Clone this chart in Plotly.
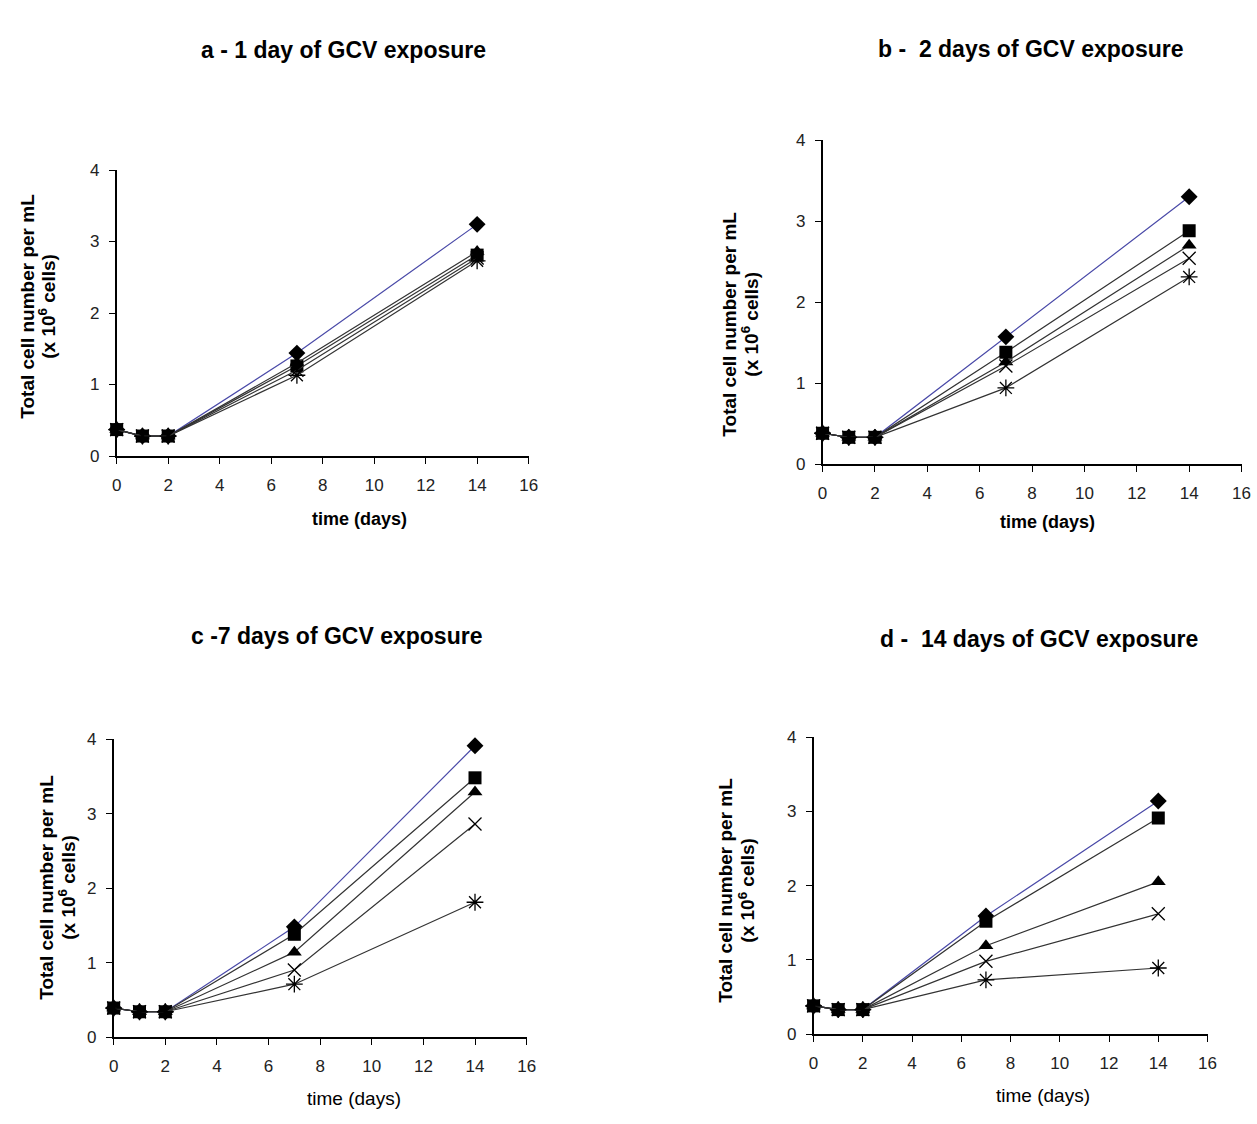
import plotly.graph_objects as go

W, H = 1257, 1124

days = [0, 1, 2, 7, 14]
series_names = ["diamond", "square", "triangle", "cross", "star"]

# panel a - 1 day of GCV exposure
a_diamond = [0.37, 0.28, 0.28, 1.44, 3.24]
a_square = [0.37, 0.28, 0.28, 1.26, 2.81]
a_triangle = [0.37, 0.28, 0.28, 1.30, 2.86]
a_cross = [0.37, 0.28, 0.28, 1.20, 2.77]
a_star = [0.37, 0.28, 0.28, 1.13, 2.73]

# panel b - 2 days
b_diamond = [0.38, 0.33, 0.33, 1.57, 3.30]
b_square = [0.38, 0.33, 0.33, 1.38, 2.88]
b_triangle = [0.38, 0.33, 0.33, 1.26, 2.70]
b_cross = [0.38, 0.33, 0.33, 1.21, 2.54]
b_star = [0.38, 0.33, 0.33, 0.94, 2.31]

# panel c - 7 days
c_diamond = [0.39, 0.34, 0.34, 1.48, 3.91]
c_square = [0.39, 0.34, 0.34, 1.38, 3.48]
c_triangle = [0.39, 0.34, 0.34, 1.14, 3.29]
c_cross = [0.39, 0.34, 0.34, 0.90, 2.86]
c_star = [0.39, 0.34, 0.34, 0.71, 1.81]

# panel d - 14 days
d_diamond = [0.38, 0.33, 0.33, 1.59, 3.14]
d_square = [0.38, 0.33, 0.33, 1.52, 2.91]
d_triangle = [0.38, 0.33, 0.33, 1.19, 2.05]
d_cross = [0.38, 0.33, 0.33, 0.98, 1.62]
d_star = [0.38, 0.33, 0.33, 0.73, 0.89]

panel_titles = ["<b>a - 1 day of GCV exposure</b>", "<b>b -  2 days of GCV exposure</b>",
                "<b>c -7 days of GCV exposure</b>", "<b>d -  14 days of GCV exposure</b>"]
x_titles = ["<b>time (days)</b>", "<b>time (days)</b>", "time (days)", "time (days)"]
y_title_1 = "<b>Total cell number per mL</b>"
y_title_2 = "<b>(x 10<sup>6</sup> cells)</b>"
x_ticks = [0, 2, 4, 6, 8, 10, 12, 14, 16]
y_ticks = [0, 1, 2, 3, 4]

panels = [
    [a_diamond, a_square, a_triangle, a_cross, a_star],
    [b_diamond, b_square, b_triangle, b_cross, b_star],
    [c_diamond, c_square, c_triangle, c_cross, c_star],
    [d_diamond, d_square, d_triangle, d_cross, d_star],
]

# target pixel positions in the picture
boxes = [(116, 528, 170, 456), (822, 1241, 140, 464), (113, 526, 739, 1037), (813, 1207, 737, 1034)]
title_pos = [(343, 50), (1030, 49), (336, 636), (1038, 639)]
xtitle_pos = [(359, 519), (1047, 522), (353, 1098), (1042, 1095)]
# (x of line 1, x of line 2, vertical centre)
ytitle_pos = [(26, 46, 306), (728, 749, 324), (45, 66, 887), (724, 746, 890)]


def fx(px):
    return ((px - 4.3) / 0.989) / W


def fy(py):
    return 1 - ((py - 9.0) / 0.983) / H


FONT = "Arial, Liberation Sans, sans-serif"
line_colors = ["#4a4aa8", "#333333", "#333333", "#333333", "#333333"]
symbols = ["diamond", "square", "triangle-up", "x-thin-open", "asterisk-open"]
sizes = [13, 13, 13, 13, 14]

fig = go.Figure()
for i, (vals, box) in enumerate(zip(panels, boxes)):
    n = "" if i == 0 else str(i + 1)
    for k, ys in enumerate(vals):
        fig.add_trace(go.Scatter(
            x=days, y=ys, mode="lines+markers", name=series_names[k], showlegend=False,
            xaxis="x" + n, yaxis="y" + n, cliponaxis=False,
            line=dict(color=line_colors[k], width=1.2),
            marker=dict(symbol=symbols[k], size=sizes[k], color="black",
                        line=dict(color="black", width=1.3 if k >= 3 else 0)),
        ))
    l, r, t, b = box
    ax = dict(domain=[fx(l), fx(r)], range=[0, 16], tickvals=x_ticks, showline=True,
              linecolor="black", linewidth=1.5, ticks="outside", ticklen=6, tickcolor="black",
              showgrid=False, zeroline=False, anchor="y" + n,
              tickfont=dict(family=FONT, size=17, color="#222"), ticklabelstandoff=7)
    ay = dict(domain=[fy(b), fy(t)], range=[0, 4], tickvals=y_ticks, showline=True,
              linecolor="black", linewidth=1.5, ticks="outside", ticklen=6, tickcolor="black",
              showgrid=False, zeroline=False, anchor="x" + n,
              tickfont=dict(family=FONT, size=17, color="#222"), ticklabelstandoff=6)
    fig.update_layout(**{"xaxis" + n: ax, "yaxis" + n: ay})

    tx, ty = title_pos[i]
    fig.add_annotation(text=panel_titles[i], x=fx(tx), y=fy(ty), xref="paper", yref="paper",
                       showarrow=False, font=dict(family=FONT, size=23, color="black"),
                       xanchor="center", yanchor="middle")
    xx, xy = xtitle_pos[i]
    fig.add_annotation(text=x_titles[i], x=fx(xx), y=fy(xy), xref="paper", yref="paper",
                       showarrow=False, font=dict(family=FONT, size=18 if i < 2 else 19, color="black"),
                       xanchor="center", yanchor="middle")
    y1x, y2x, yy = ytitle_pos[i]
    for txt, px in ((y_title_1, y1x), (y_title_2, y2x)):
        fig.add_annotation(text=txt, x=fx(px), y=fy(yy), xref="paper", yref="paper",
                           showarrow=False, textangle=-90,
                           font=dict(family=FONT, size=19, color="black"),
                           xanchor="center", yanchor="middle")

fig.update_layout(width=W, height=H, margin=dict(l=0, r=0, t=0, b=0),
                  paper_bgcolor="white", plot_bgcolor="white")

post = (
    "document.documentElement.style.margin='0';"
    "document.body.style.margin='0';"
    "document.body.style.overflow='hidden';"
)
fig.write_html("out.html", config={"displayModeBar": False}, post_script=post)
